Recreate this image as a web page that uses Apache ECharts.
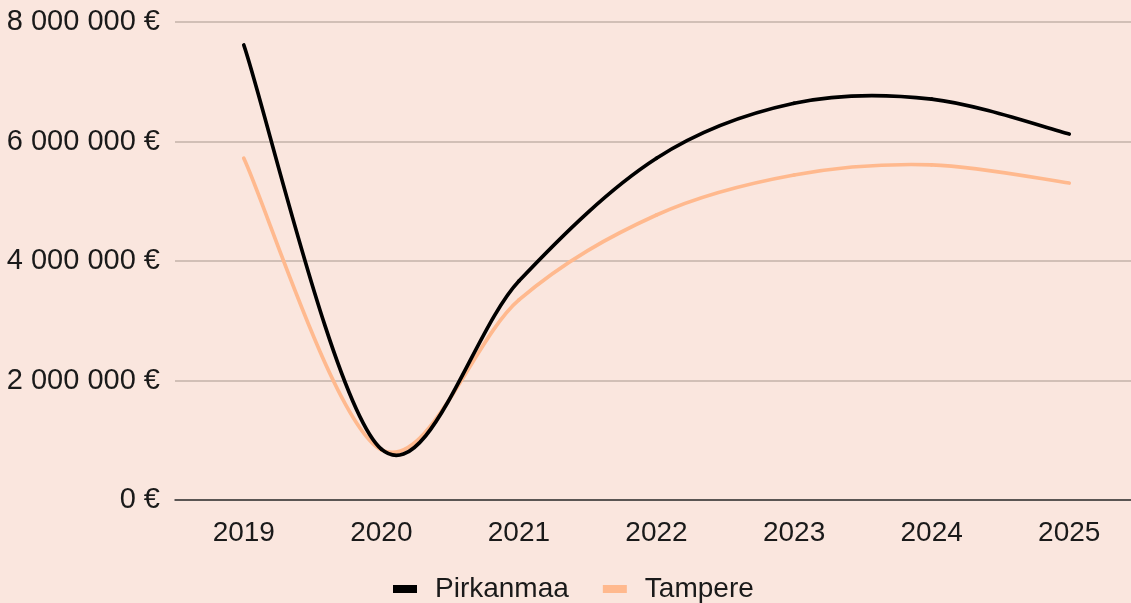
<!DOCTYPE html>
<html><head><meta charset="utf-8">
<script src="https://cdn.jsdelivr.net/npm/echarts@6/dist/echarts.min.js"></script>
<style>html,body{margin:0;padding:0;background:#FAE6DE;overflow:hidden;}#c{width:1138px;height:603px;}</style>
</head><body><div id="c"></div>
<script>
const years = ['2019','2020','2021','2022','2023','2024','2025'];
const pirkanmaa = [7615000, 850000, 3665000, 5720000, 6640000, 6710000, 6125000];
const tampere = [5720000, 840000, 3350000, 4770000, 5440000, 5610000, 5305000];
const yTicks = [0, 2000000, 4000000, 6000000, 8000000];

function fmt(v){ return String(v).replace(/\B(?=(\d{3})+(?!\d))/g,' ') + ' €'; }

// Catmull-Rom spline segment through the library's coordinate system
function splineSeries(name, values, color, z){
  return {
    name: name, type: 'custom', z: z,
    data: values.map((v,i)=>[i,v]),
    encode: {x:0, y:1},
    itemStyle: {color: color},
    renderItem: function(params, api){
      const i = params.dataIndex;
      const n = values.length;
      if (i >= n-1) return null;
      const p = k => { const j = Math.max(0,Math.min(n-1,k)); return api.coord([j, values[j]]); };
      const p0 = p(i-1), p1 = p(i), p2 = p(i+1), p3 = p(i+2);
      const c1 = [p1[0] + (p2[0]-p0[0])/6, p1[1] + (p2[1]-p0[1])/6];
      const c2 = [p2[0] - (p3[0]-p1[0])/6, p2[1] - (p3[1]-p1[1])/6];
      return {
        type: 'bezierCurve',
        shape: {x1:p1[0], y1:p1[1], x2:p2[0], y2:p2[1], cpx1:c1[0], cpy1:c1[1], cpx2:c2[0], cpy2:c2[1]},
        style: {stroke: color, lineWidth: 3.7, fill: null, lineCap: 'round'}
      };
    }
  };
}

const chart = echarts.init(document.getElementById('c'));
chart.setOption({
  backgroundColor:'#FAE6DE',
  textStyle:{fontFamily:'Liberation Sans, Arial, sans-serif'},
  grid:{left:175,right:0,top:22,bottom:103,containLabel:false},
  legend:{top:570,left:388,itemWidth:24,itemHeight:8,itemGap:34,icon:'rect',
    textStyle:{fontSize:28,color:'#1a1a1a',padding:[0,0,0,13]},
    data:['Pirkanmaa','Tampere']},
  xAxis:{type:'category',data:years,boundaryGap:true,
    axisLine:{lineStyle:{color:'#333',width:1.5}},axisTick:{show:false},
    axisLabel:{fontSize:28,color:'#1a1a1a',margin:19}},
  yAxis:{type:'value',min:yTicks[0],max:yTicks[yTicks.length-1],interval:2000000,
    axisLine:{show:false},axisTick:{show:false},
    splitLine:{lineStyle:{color:'#C3B2A8',width:1.5}},
    axisLabel:{fontSize:29,color:'#1a1a1a',margin:15,formatter:fmt}},
  series:[
    splineSeries('Pirkanmaa', pirkanmaa, '#000000', 3),
    splineSeries('Tampere', tampere, '#FFB98E', 2)
  ]
});
</script></body></html>
